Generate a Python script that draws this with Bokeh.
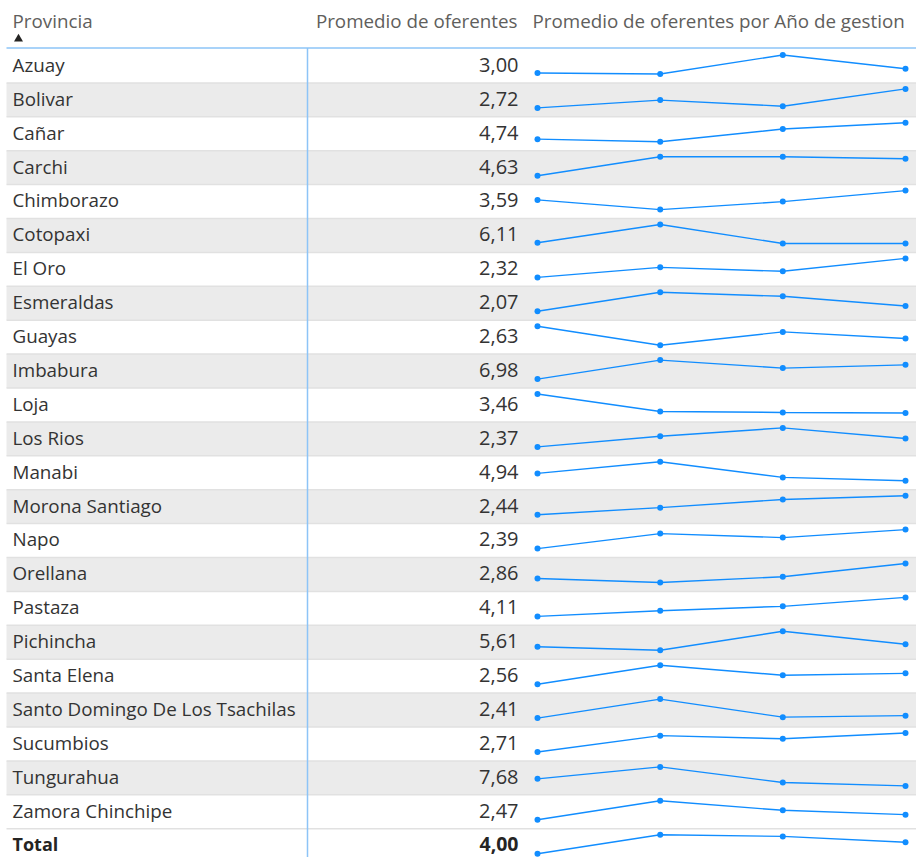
from bokeh.plotting import figure
from bokeh.models import ColumnDataSource, Range1d
from bokeh.core.properties import value
from bokeh.embed import file_html
from bokeh.resources import INLINE

# ---------------- data ----------------
provincias = ["Azuay", "Bolivar", "Cañar", "Carchi", "Chimborazo", "Cotopaxi", "El Oro",
              "Esmeraldas", "Guayas", "Imbabura", "Loja", "Los Rios", "Manabi",
              "Morona Santiago", "Napo", "Orellana", "Pastaza", "Pichincha", "Santa Elena",
              "Santo Domingo De Los Tsachilas", "Sucumbios", "Tungurahua", "Zamora Chinchipe"]
promedio = [3.00, 2.72, 4.74, 4.63, 3.59, 6.11, 2.32, 2.07, 2.63, 6.98, 3.46, 2.37, 4.94,
            2.44, 2.39, 2.86, 4.11, 5.61, 2.56, 2.41, 2.71, 7.68, 2.47]
total_label = "Total"
total_valor = 4.00

# sparkline shape per row (relative level within each row, 0 = row minimum, 1 = row maximum),
# four "Año de gestion" points each
anio_1 = [0.05, 0.00, 0.14, 0.00, 0.51, 0.04, 0.00, 0.00, 1.00, 0.00, 1.00, 0.00, 0.39,
          0.00, 0.00, 0.21, 0.00, 0.19, 0.00, 0.00, 0.00, 0.37, 0.00]
anio_2 = [0.00, 0.41, 0.00, 1.00, 0.00, 1.00, 0.53, 1.00, 0.00, 1.00, 0.08, 0.56, 1.00,
          0.37, 0.79, 0.00, 0.30, 0.00, 1.00, 1.00, 0.86, 1.00, 1.00]
anio_3 = [1.00, 0.09, 0.67, 1.00, 0.42, 0.00, 0.32, 0.79, 0.70, 0.58, 0.03, 1.00, 0.18,
          0.80, 0.58, 0.30, 0.53, 1.00, 0.47, 0.05, 0.70, 0.18, 0.50]
anio_4 = [0.28, 1.00, 1.00, 0.89, 1.00, 0.00, 1.00, 0.28, 0.35, 0.75, 0.00, 0.44, 0.00,
          1.00, 1.00, 1.00, 1.00, 0.32, 0.57, 0.13, 1.00, 0.00, 0.27]
total_anios = [0.00, 1.00, 0.91, 0.60]

headers = ["Provincia", "Promedio de oferentes", "Promedio de oferentes por Año de gestion"]

# ---------------- layout (screen-pixel like coordinates) ----------------
W, H = 916, 857
X0, X1 = 0, 916
Y0, Y1 = 0, 857
HEADER_LINE = 47.5
ROW_H = 33.9
FIRST_TOP = 48.5
COL_DIV = 307
NUM_RIGHT = 518
SPARK_X = [537, 659.7, 782.3, 905]
SPARK_H = 19
SPARK_BASE = 25

BLUE = "#118DFF"
TXT = "#333333"
HDR = "#605E5C"
FONT = "Open Sans"

p = figure(width=W, height=H, output_backend="svg", toolbar_location=None,
           x_range=Range1d(X0, X1), y_range=Range1d(Y1, Y0),
           min_border=0, min_border_left=0, min_border_right=0,
           min_border_top=0, min_border_bottom=0)
p.axis.visible = False
p.grid.visible = False
p.outline_line_color = None
p.background_fill_color = "white"
p.border_fill_color = "white"

labels = provincias + [total_label]
vals = promedio + [total_valor]
n = len(labels)
tops = [FIRST_TOP + i * ROW_H for i in range(n)]

# row bands
band_fill = [("#EBEBEB" if (i % 2 == 1 and i < n - 1) else "white") for i in range(n)]
bands = ColumnDataSource(dict(left=[6] * n, right=[X1] * n, top=tops,
                              bottom=[t + ROW_H for t in tops], fill=band_fill))
p.quad(left="left", right="right", top="top", bottom="bottom", fill_color="fill",
       line_color=None, source=bands)

# row separators
sep_y = [t + ROW_H for t in tops[:-1]]
p.segment(x0=[6] * len(sep_y), x1=[X1] * len(sep_y), y0=sep_y, y1=sep_y,
          line_color="#E1E1E1", line_width=1.5)

# header line and column divider
p.segment(x0=[6], x1=[X1], y0=[HEADER_LINE], y1=[HEADER_LINE], line_color="#8DC4F7", line_width=1.5)
p.segment(x0=[COL_DIV], x1=[COL_DIV], y0=[HEADER_LINE], y1=[Y1 + 5], line_color="#8DC4F7", line_width=1.5)

# header texts
HFS = "18.8px"
p.text(x=[12], y=[20.5], text=[headers[0]], text_font=value(FONT), text_font_size=HFS,
       text_color=HDR, text_baseline="middle", text_align="left")
p.text(x=[NUM_RIGHT - 1], y=[20.5], text=[headers[1]], text_font=value(FONT), text_font_size=HFS,
       text_color=HDR, text_baseline="middle", text_align="right")
p.text(x=[532], y=[20.5], text=[headers[2]], text_font=value(FONT), text_font_size=HFS,
       text_color=HDR, text_baseline="middle", text_align="left")
p.scatter(x=[18], y=[38.5], marker="triangle", size=9, fill_color="#252423", line_color=None)

# row texts
RFS = "18.8px"
NFS = "20px"
centers = [t + 15.8 for t in tops]
rows = ColumnDataSource(dict(x=[12] * (n - 1), y=centers[:-1], t=provincias))
p.text(x="x", y="y", text="t", source=rows, text_font=value(FONT), text_font_size=RFS,
       text_color=TXT, text_baseline="middle", text_align="left")
nums = ColumnDataSource(dict(x=[NUM_RIGHT] * (n - 1), y=centers[:-1],
                             t=[f"{v:.2f}".replace(".", ",") for v in promedio]))
p.text(x="x", y="y", text="t", source=nums, text_font=value(FONT), text_font_size=NFS,
       text_color=TXT, text_baseline="middle", text_align="right")
TOT_Y = centers[-1] - 0.8
p.text(x=[12], y=[TOT_Y], text=[total_label], text_font=value(FONT), text_font_size="18px",
       text_font_style="bold", text_color="#252423", text_baseline="middle", text_align="left")
p.text(x=[NUM_RIGHT], y=[TOT_Y], text=[f"{total_valor:.2f}".replace(".", ",")],
       text_font=value(FONT), text_font_size="19.5px", text_font_style="bold",
       text_color="#252423", text_baseline="middle", text_align="right")

# sparklines
series = [list(r) for r in zip(anio_1, anio_2, anio_3, anio_4)] + [total_anios]
xs, ys, px, py = [], [], [], []
for t, s in zip(tops, series):
    yy = [t + SPARK_BASE - v * SPARK_H for v in s]
    xs.append(SPARK_X)
    ys.append(yy)
    px += SPARK_X
    py += yy
p.multi_line(xs=xs, ys=ys, line_color=BLUE, line_width=1.4)
p.scatter(x=px, y=py, size=6, fill_color=BLUE, line_color=None)

open("out.html", "w").write(file_html(p, INLINE))
